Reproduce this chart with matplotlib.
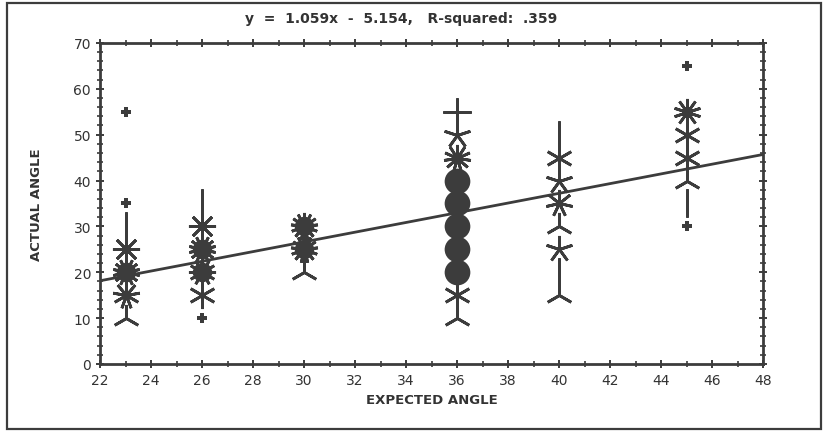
import matplotlib
matplotlib.use('Agg')
import matplotlib.pyplot as plt
from matplotlib.patches import Rectangle

# data: expected angle, actual angle, number of overlapping points
expected = [23, 23, 23, 23, 23, 23, 23,
            26, 26, 26, 26, 26, 26,
            30, 30, 30,
            36, 36, 36, 36, 36, 36, 36, 36, 36, 36,
            40, 40, 40, 40, 40, 40, 40, 40,
            45, 45, 45, 45, 45, 45, 45]
actual = [55, 35, 30, 25, 20, 15, 10,
          35, 30, 25, 20, 15, 10,
          30, 25, 20,
          55, 50, 45, 40, 35, 30, 25, 20, 15, 10,
          50, 45, 40, 35, 30, 25, 20, 15,
          65, 55, 50, 45, 40, 35, 30]
counts = [1, 1, 2, 8, 14, 9, 3,
          2, 8, 14, 12, 6, 1,
          13, 13, 3,
          4, 5, 11, 20, 20, 20, 20, 20, 6, 3,
          2, 6, 5, 7, 3, 5, 2, 3,
          1, 10, 6, 6, 3, 2, 1]

slope = 1.059
intercept = -5.154
title = 'y  =  1.059x  -  5.154,   R-squared:  .359'

ink = '#3c3c3c'

fig = plt.figure(figsize=(8.24, 4.35), dpi=100)
ax = fig.add_axes([0.1214, 0.161, 0.8046, 0.738])

# outer frame around the whole graphic
fig.patches.append(Rectangle((0.008, 0.012), 0.988, 0.978, transform=fig.transFigure,
                             fill=False, edgecolor=ink, linewidth=1.6))

# sunflower style: one ray per point, dense groups become blobs
for x, y, n in zip(expected, actual, counts):
    if n == 1:
        ax.plot(x, y, marker='P', markersize=7.5, color=ink, markeredgewidth=0, zorder=3)
    elif n >= 20:
        ax.plot(x, y, marker='o', markersize=18.5, color=ink, markeredgewidth=0, zorder=3)
    else:
        if n >= 12:
            ax.plot(x, y, marker='o', markersize=14, color=ink, markeredgewidth=0, zorder=3)
        elif n >= 8:
            ax.plot(x, y, marker='o', markersize=7, color=ink, markeredgewidth=0, zorder=3)
        ax.plot(x, y, marker=(n, 2, 0), markersize=19.5, color=ink, markeredgewidth=2.0, zorder=3)

# regression line
ax.plot([22, 48], [slope * 22 + intercept, slope * 48 + intercept], color=ink, linewidth=2, zorder=2)

ax.set_xlim(22, 48)
ax.set_ylim(0, 70)
ax.set_xticks(range(22, 49, 2))
ax.set_xticks(range(22, 49, 1), minor=True)
ax.set_yticks(range(0, 71, 10))
ax.set_yticks(range(0, 71, 2), minor=True)
ax.tick_params(which='both', direction='inout', top=True, right=True, color=ink,
               labelcolor='#333333', labelsize=10)
ax.tick_params(which='major', length=6, width=1.4)
ax.tick_params(which='minor', length=4, width=1.2)
for s in ax.spines.values():
    s.set_linewidth(2)
    s.set_color(ink)

ax.set_xlabel('EXPECTED ANGLE', fontsize=9.5, fontweight='bold', color='#333333', labelpad=4)
ax.set_ylabel('ACTUAL ANGLE', fontsize=9.5, fontweight='bold', color='#333333', labelpad=22)
fig.text(0.487, 0.956, title, ha='center', va='center', fontsize=10, fontweight='bold', color='#333333')

fig.savefig('out.png', dpi=100, facecolor='white')
